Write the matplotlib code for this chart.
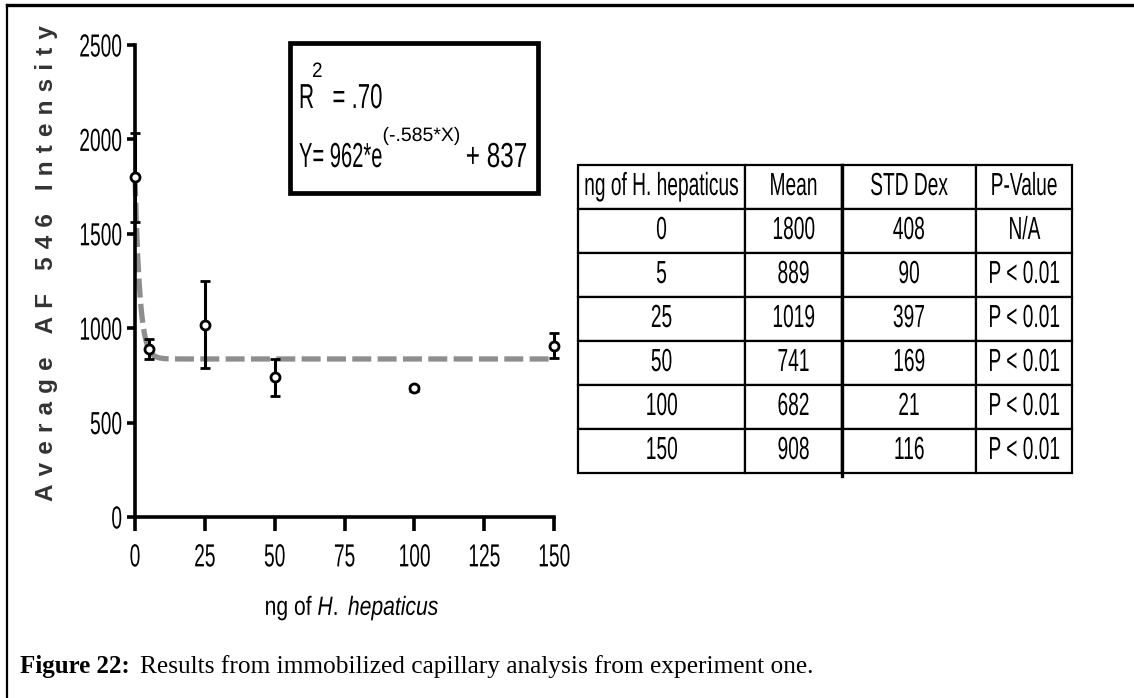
import numpy as np
import matplotlib
matplotlib.use('Agg')
import matplotlib.pyplot as plt
from matplotlib.lines import Line2D
from matplotlib.patches import Rectangle
from matplotlib.patheffects import AbstractPathEffect
from matplotlib.transforms import Affine2D

# measured capillary intensities per amount of H. hepaticus
ng = [0, 5, 25, 50, 100, 150]
mean = [1800, 889, 1019, 741, 682, 908]
std_dev = [408, 90, 397, 169, 21, 116]
p_value = ['N/A', 'P < 0.01', 'P < 0.01', 'P < 0.01', 'P < 0.01', 'P < 0.01']
err = [236, 52, 229, 98, 12, 67]

# exponential decay fit Y = A*e^(-k*X) + C
fit_a, fit_k, fit_c = 962, 0.585, 837
r_squared = '.70'

table_header = ['ng of H. hepaticus', 'Mean', 'STD Dex', 'P-Value']
x_ticks = [0, 25, 50, 75, 100, 125, 150]
y_ticks = [0, 500, 1000, 1500, 2000, 2500]

plt.rcParams['font.family'] = ['Liberation Sans', 'DejaVu Sans']
plt.rcParams['mathtext.fontset'] = 'custom'
plt.rcParams['mathtext.rm'] = 'Liberation Sans'
plt.rcParams['mathtext.it'] = 'Liberation Sans:italic'


class Squeeze(AbstractPathEffect):
    """Narrow the glyphs horizontally around the text anchor."""

    def __init__(self, sx, anchor='left'):
        super().__init__()
        self.sx = sx
        self.anchor = anchor

    def draw_path(self, renderer, gc, tpath, affine, rgbFace=None):
        ext = tpath.get_extents()
        xa = {'left': 0.0, 'center': (ext.x0 + ext.x1) / 2, 'right': ext.x1}[self.anchor]
        squeeze = Affine2D().translate(-xa, 0).scale(self.sx, 1).translate(xa, 0)
        renderer.draw_path(gc, tpath, squeeze + affine, rgbFace)


W, H = 1134, 698
fig = plt.figure(figsize=(W / 100, H / 100), dpi=100)
renderer = fig.canvas.get_renderer()


def px(x0, y0, x1, y1):
    return [x0 / W, 1 - y1 / H, (x1 - x0) / W, (y1 - y0) / H]


def text_run(x, y, parts):
    # parts: (string, fontsize, rise in px, squeeze, gap before in px)
    for s, size, rise, sx, gap in parts:
        x += gap
        t = fig.text(x / W, 1 - (y - rise) / H, s, fontsize=size, va='baseline')
        t.set_path_effects([Squeeze(sx)])
        x += t.get_window_extent(renderer).width * sx


# page frame
fig.add_artist(Line2D([7 / W, 7 / W], [1 - 5 / H, 0], color='black', lw=1.6))
fig.add_artist(Line2D([7 / W, 1], [1 - 5 / H, 1 - 5 / H], color='black', lw=2.4))

ax = fig.add_axes(px(135, 45, 554, 517))
xfit = np.linspace(0, 150, 600)
yfit = fit_a * np.exp(-fit_k * xfit) + fit_c
ax.plot(xfit, yfit, color='#8e8e8e', lw=3.8, dashes=(3.6, 1.2), zorder=2, clip_on=False)
ax.errorbar(ng, mean, yerr=err, fmt='o', ms=6.5, mfc='white', mec='black', mew=2,
            ecolor='black', elinewidth=2.2, capsize=3.6, capthick=2.6, zorder=3,
            clip_on=False)
ax.set_xlim(0, 150)
ax.set_ylim(0, 2500)
ax.set_xticks(x_ticks)
ax.set_yticks(y_ticks)
for side in ['top', 'right']:
    ax.spines[side].set_visible(False)
for side in ['left', 'bottom']:
    ax.spines[side].set_linewidth(2.6)
ax.tick_params(axis='y', length=6, width=2.6, labelsize=23, pad=3)
ax.tick_params(axis='x', length=10, width=2.6, labelsize=23, pad=9)

xlab = fig.text(352 / W, 1 - 615 / H, r'ng of $\it{H.\ hepaticus}$', fontsize=19,
                ha='center', va='baseline')
xlab.set_path_effects([Squeeze(0.8, 'center')])

ylab = '\u2004'.join(list('Average AF 546 Intensity'))
fig.text(47 / W, 1 - 263 / H, ylab, rotation=90, ha='center', va='center',
         fontsize=17.5, weight='bold', color='#333333')

# fit equation box
fig.add_artist(Rectangle((290 / W, 1 - 193 / H), 248 / W, 150 / H, fill=False,
                         ec='black', lw=3.4))
text_run(299, 108, [('R', 25, 0, 0.6, 0),
                    ('2', 15, 31, 0.9, -2),
                    ('= ' + r_squared, 25, 0, 0.64, 10)])
text_run(299, 167, [('Y= %d*e' % fit_a, 25, 0, 0.58, 0),
                    ('(-.%d*X)' % round(fit_k * 1000), 14, 26, 1.0, 0),
                    ('+ %d' % fit_c, 25, 0, 0.7, 5)])

# summary table
tax = fig.add_axes(px(578, 165, 1072, 473))
tax.axis('off')
rows = [[str(n), str(m), str(s), p] for n, m, s, p in zip(ng, mean, std_dev, p_value)]
tab = tax.table(cellText=rows, colLabels=table_header, cellLoc='center',
                colWidths=[167, 97, 134, 96], bbox=[0, 0, 1, 1])
tab.auto_set_font_size(False)
tab.set_fontsize(23)
for (r, c), cell in tab.get_celld().items():
    cell.set_linewidth(1.6)
    cell.get_text().set_path_effects([Squeeze(0.6, 'center')])
tax.add_line(Line2D([264 / 494, 264 / 494], [-0.01, 1], transform=tax.transAxes,
                    color='black', lw=2.4, clip_on=False))

fig.canvas.draw()
for lab in ax.get_xticklabels():
    lab.set_path_effects([Squeeze(0.6, 'center')])
for lab in ax.get_yticklabels():
    lab.set_path_effects([Squeeze(0.6, 'right')])

# caption
serif = ['Liberation Serif', 'DejaVu Serif']
cap_bold = fig.text(20 / W, 1 - 673 / H, 'Figure 22:', fontsize=18, weight='bold',
                    family=serif, va='baseline')
bb = cap_bold.get_window_extent(renderer)
fig.text(bb.x1 / W + 10 / W, 1 - 673 / H,
         'Results from immobilized capillary analysis from experiment one.',
         fontsize=18.3, family=serif, va='baseline')

fig.savefig('out.png', dpi=100)
